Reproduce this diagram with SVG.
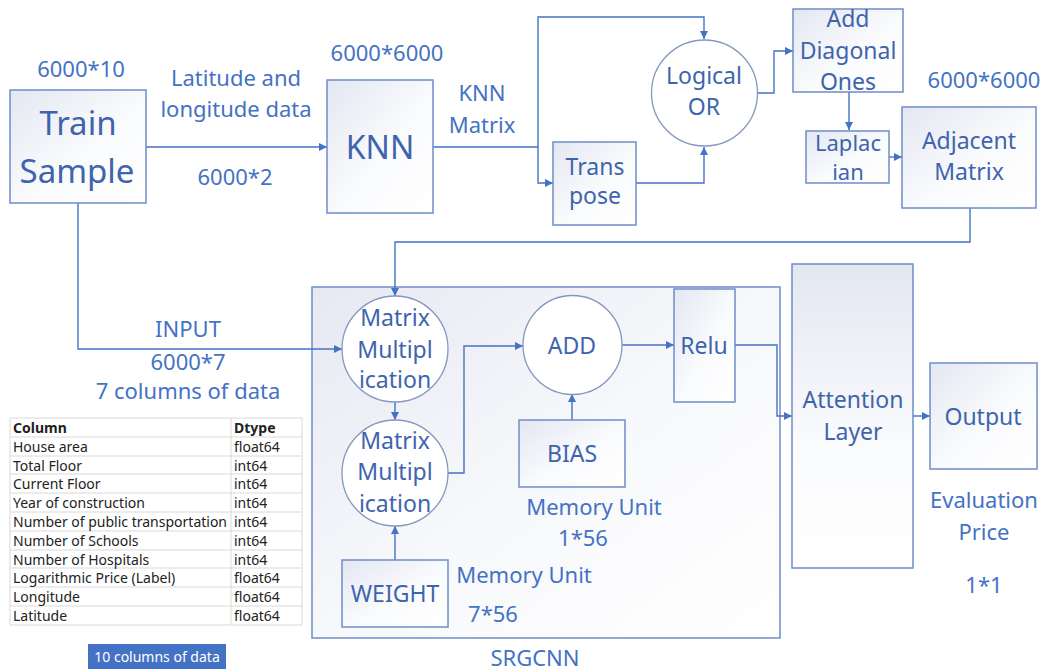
<svg xmlns="http://www.w3.org/2000/svg" width="1047" height="670" viewBox="0 0 1047 670">
<defs>
<linearGradient id="g" x1="0" y1="0" x2="1" y2="1">
<stop offset="0" stop-color="#E3E7F1"/>
<stop offset="0.55" stop-color="#FAFBFD"/>
<stop offset="1" stop-color="#FFFFFF"/>
</linearGradient>
<linearGradient id="gv" x1="0" y1="0" x2="0" y2="1">
<stop offset="0" stop-color="#E3E7F1"/>
<stop offset="0.6" stop-color="#FAFBFD"/>
<stop offset="1" stop-color="#FFFFFF"/>
</linearGradient>
<linearGradient id="gb" x1="0" y1="0" x2="1" y2="1">
<stop offset="0" stop-color="#E6E9F2"/>
<stop offset="0.5" stop-color="#F7F8FB"/>
<stop offset="1" stop-color="#FFFFFF"/>
</linearGradient>
<marker id="ah" viewBox="0 0 10 10" refX="10" refY="5" markerWidth="8" markerHeight="8" markerUnits="userSpaceOnUse" orient="auto">
<path d="M0,0 L10,5 L0,10 z" fill="#4472C4"/>
</marker>
<style>
.box{fill:url(#g);stroke:#6E8DC9;stroke-width:1.5}
.circ{fill:#FFFFFF;stroke:#8497C0;stroke-width:1.3}
.conn{fill:none;stroke:#4472C4;stroke-width:1.4;marker-end:url(#ah)}
.line{fill:none;stroke:#4472C4;stroke-width:1.4}
.t{font-family:"Noto Sans","Open Sans",sans-serif;font-size:23px;fill:#3E64AD;text-anchor:middle}
.lb{font-family:"Noto Sans","Open Sans",sans-serif;font-size:22px;fill:#4472C4;text-anchor:middle}
.big{font-size:33px}
.tb{font-family:"Noto Sans","Open Sans",sans-serif;font-size:14px;fill:#222222}
.tbh{font-weight:bold}
.grid{stroke:#D9D9D9;stroke-width:1;fill:none}
</style>
</defs>
<rect width="1047" height="670" fill="#FFFFFF"/>

<g id="srgcnn">
<rect x="312" y="287" width="468" height="351" fill="url(#gb)" stroke="#6E8DC9" stroke-width="1.5"/>
<text class="lb" x="535" y="666">SRGCNN</text>
</g>

<g id="connectors">
<path class="conn" d="M146,147 H327"/>
<path class="line" d="M433,147 H538"/>
<path class="conn" d="M538,147 V17 H704 V39"/>
<path class="conn" d="M538,147 V183 H553"/>
<path class="conn" d="M636,183 H704 V147"/>
<path class="conn" d="M757,93 H774 V51 H793"/>
<path class="conn" d="M849,92 V130"/>
<path class="conn" d="M889,157 H902"/>
<path class="conn" d="M970,208 V242 H395 V296"/>
<path class="conn" d="M78,203 V349 H342"/>
<path class="conn" d="M395,402 V420"/>
<path class="conn" d="M395,560 V526"/>
<path class="conn" d="M448,473 H464 V346 H523"/>
<path class="conn" d="M572,420 V394"/>
<path class="conn" d="M622,345 H674"/>
<path class="conn" d="M735,345 H777 V416 H792"/>
<path class="conn" d="M913,416 H930"/>
</g>

<g id="labels">
<text class="lb" x="81" y="77">6000*10</text>
<text class="lb" x="236" y="86">Latitude and</text>
<text class="lb" x="236" y="117">longitude data</text>
<text class="lb" x="235" y="185">6000*2</text>
<text class="lb" x="387" y="61">6000*6000</text>
<text class="lb" x="482" y="101">KNN</text>
<text class="lb" x="482" y="133">Matrix</text>
<text class="lb" x="984" y="88">6000*6000</text>
<text class="lb" x="188" y="337">INPUT</text>
<text class="lb" x="188" y="370">6000*7</text>
<text class="lb" x="188" y="399">7 columns of data</text>
<text class="lb" x="594" y="515">Memory Unit</text>
<text class="lb" x="583" y="546">1*56</text>
<text class="lb" x="524" y="583">Memory Unit</text>
<text class="lb" x="493" y="622">7*56</text>
<text class="lb" x="984" y="508">Evaluation</text>
<text class="lb" x="984" y="540">Price</text>
<text class="lb" x="984" y="593">1*1</text>
</g>

<g id="train-sample">
<rect class="box" x="10" y="90" width="136" height="113"/>
<text class="t big" x="78" y="135">Train</text>
<text class="t big" x="77" y="183">Sample</text>
</g>

<g id="knn">
<rect class="box" x="327" y="80" width="106" height="133"/>
<text class="t" style="font-size:32px" x="380" y="159">KNN</text>
</g>

<g id="transpose">
<rect class="box" x="553" y="142" width="83" height="83"/>
<text class="t" x="595" y="175">Trans</text>
<text class="t" x="595" y="204">pose</text>
</g>

<g id="logical-or">
<circle class="circ" cx="704.5" cy="93" r="53"/>
<text class="t" x="704" y="84">Logical</text>
<text class="t" x="704" y="115">OR</text>
</g>

<g id="add-diagonal">
<rect class="box" x="793" y="9" width="110" height="83"/>
<text class="t" x="848" y="27">Add</text>
<text class="t" x="848" y="59">Diagonal</text>
<text class="t" x="848" y="90">Ones</text>
</g>

<g id="laplacian">
<rect class="box" x="806" y="131" width="83" height="52"/>
<text class="t" style="font-size:22px" x="848" y="151">Laplac</text>
<text class="t" style="font-size:22px" x="848" y="180">ian</text>
</g>

<g id="adjacent">
<rect class="box" x="902" y="107" width="134" height="101"/>
<text class="t" x="969" y="149">Adjacent</text>
<text class="t" x="969" y="180">Matrix</text>
</g>

<g id="matmul1">
<circle class="circ" cx="395" cy="349" r="53"/>
<text class="t" x="395" y="326">Matrix</text>
<text class="t" x="395" y="358">Multipl</text>
<text class="t" x="395" y="388">ication</text>
</g>

<g id="matmul2">
<circle class="circ" cx="395" cy="473" r="53"/>
<text class="t" x="395" y="449">Matrix</text>
<text class="t" x="395" y="480">Multipl</text>
<text class="t" x="395" y="512">ication</text>
</g>

<g id="add">
<circle class="circ" cx="572.5" cy="345" r="49.5"/>
<text class="t" x="572" y="354">ADD</text>
</g>

<g id="bias">
<rect class="box" x="519" y="420" width="106" height="67"/>
<text class="t" x="572" y="462">BIAS</text>
</g>

<g id="weight">
<rect class="box" x="342" y="560" width="106" height="67"/>
<text class="t" x="395" y="602">WEIGHT</text>
</g>

<g id="relu">
<rect class="box" x="674" y="289" width="61" height="113"/>
<text class="t" x="704" y="354">Relu</text>
</g>

<g id="attention">
<rect x="792" y="264" width="121" height="304" fill="url(#gv)" stroke="#6E8DC9" stroke-width="1.5"/>
<text class="t" x="853" y="408">Attention</text>
<text class="t" x="853" y="440">Layer</text>
</g>

<g id="output">
<rect class="box" x="930" y="363" width="107" height="106"/>
<text class="t" x="983" y="425">Output</text>
</g>

<g id="table">
<rect class="grid" x="10" y="418" width="292" height="207"/>
<path class="grid" d="M231,418 V625 M10,437 H302 M10,456 H302 M10,474 H302 M10,493 H302 M10,512 H302 M10,531 H302 M10,550 H302 M10,568 H302 M10,587 H302 M10,606 H302"/>
<text class="tb tbh" x="13" y="433">Column</text>
<text class="tb tbh" x="234" y="433">Dtype</text>
<text class="tb" x="13" y="452">House area</text>
<text class="tb" x="234" y="452">float64</text>
<text class="tb" x="13" y="471">Total Floor</text>
<text class="tb" x="234" y="471">int64</text>
<text class="tb" x="13" y="489">Current Floor</text>
<text class="tb" x="234" y="489">int64</text>
<text class="tb" x="13" y="508">Year of construction</text>
<text class="tb" x="234" y="508">int64</text>
<text class="tb" x="13" y="527">Number of public transportation</text>
<text class="tb" x="234" y="527">int64</text>
<text class="tb" x="13" y="546">Number of Schools</text>
<text class="tb" x="234" y="546">int64</text>
<text class="tb" x="13" y="565">Number of Hospitals</text>
<text class="tb" x="234" y="565">int64</text>
<text class="tb" x="13" y="583">Logarithmic Price (Label)</text>
<text class="tb" x="234" y="583">float64</text>
<text class="tb" x="13" y="602">Longitude</text>
<text class="tb" x="234" y="602">float64</text>
<text class="tb" x="13" y="621">Latitude</text>
<text class="tb" x="234" y="621">float64</text>
</g>

<g id="ten-columns">
<rect x="88" y="644" width="138" height="25" fill="#4472C4"/>
<text x="157" y="662" font-family="Noto Sans, Open Sans, sans-serif" font-size="14" fill="#FFFFFF" text-anchor="middle">10 columns of data</text>
</g>
</svg>
